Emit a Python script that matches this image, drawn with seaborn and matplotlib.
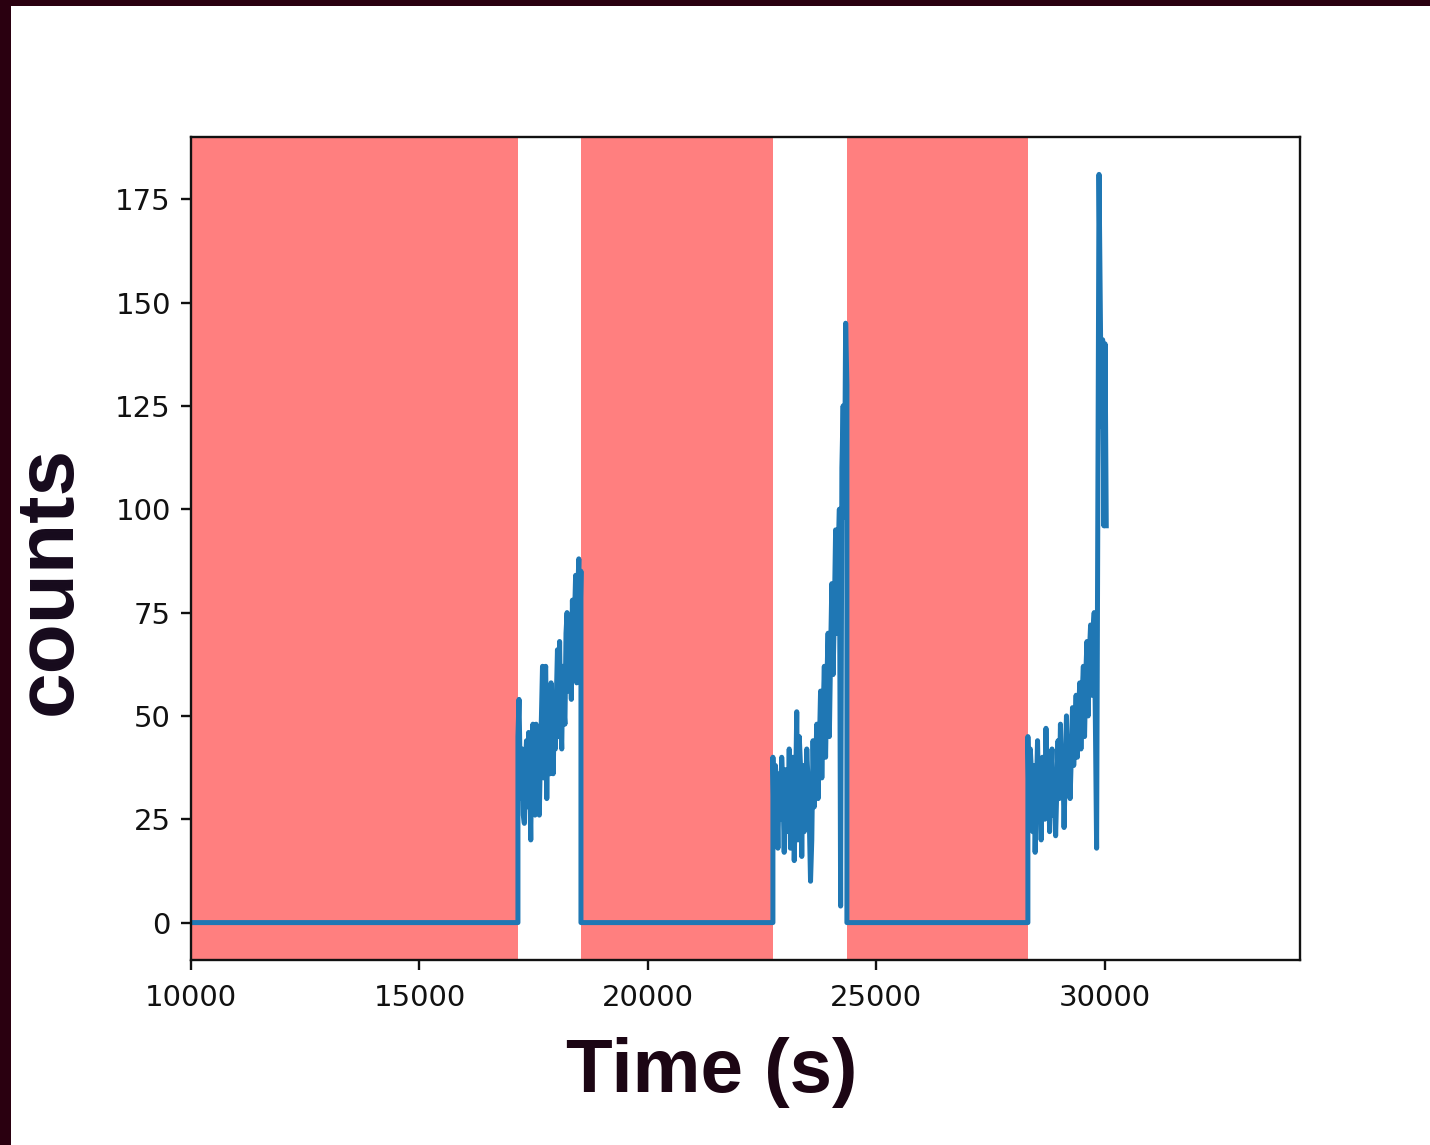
import numpy as np
import pandas as pd
import seaborn as sns
import matplotlib.pyplot as plt
from matplotlib.patches import Rectangle

# intervals shaded in red (s)
span_starts = [10000, 18534, 24354]
span_ends = [17155, 22735, 28315]

# noisy light-curve segments between the shaded intervals
seg_starts = [17155, 22735, 28315]
seg_ends = [18534, 24354, 30030]

seg1 = [45, 54, 38, 30, 42, 26, 24, 38, 44, 28,
        46, 35, 20, 44, 48, 33, 26, 48, 40, 45,
        26, 40, 50, 62, 35, 60, 62, 30, 55, 40,
        36, 58, 46, 36, 50, 42, 55, 66, 45, 68,
        50, 42, 62, 52, 48, 70, 75, 56, 72, 64,
        54, 78, 60, 74, 84, 58, 80, 88, 70, 85]
seg2 = [40, 20, 38, 32, 18, 36, 25, 40, 33, 17,
        37, 28, 22, 42, 18, 35, 40, 15, 30, 51,
        20, 45, 38, 16, 38, 22, 30, 42, 34, 25,
        10, 20, 44, 28, 38, 48, 30, 42, 56, 35,
        50, 62, 40, 58, 70, 45, 65, 82, 60, 75,
        95, 70, 88, 100, 4, 110, 125, 98, 145, 130]
seg3 = [45, 25, 42, 36, 22, 38, 17, 30, 44, 28,
        36, 20, 40, 32, 25, 47, 30, 38, 22, 35,
        42, 26, 36, 21, 33, 44, 30, 48, 34, 40,
        23, 36, 50, 35, 45, 30, 40, 52, 38, 46,
        55, 40, 50, 58, 42, 55, 62, 45, 60, 68,
        50, 65, 72, 55, 70, 75, 48, 18, 100, 181,
        150, 120, 141, 96, 140, 96]
segments = [seg1, seg2, seg3]

x_ticks = [10000, 15000, 20000, 25000, 30000]
y_ticks = [0, 25, 50, 75, 100, 125, 150, 175]

# build the full series: zeros inside shaded intervals, counts in the gaps
t_all = []
c_all = []
for i, seg in enumerate(segments):
    s0, s1 = seg_starts[i], seg_ends[i]
    t_all += [span_starts[i], s0]
    c_all += [0, 0]
    t_all += list(np.linspace(s0, s1, len(seg)))
    c_all += seg
    if s1 in span_starts:
        t_all.append(s1)
        c_all.append(0)

df = pd.DataFrame({'time': t_all, 'counts': c_all})

fig = plt.figure(figsize=(14.3, 11.45), dpi=100, facecolor='#2a0010')
fig.patches.append(Rectangle((11 / 1430, 0), 1, 1 - 6 / 1145, transform=fig.transFigure,
                             facecolor='white', edgecolor='none', zorder=-1))
ax = fig.add_axes([191 / 1430, 1 - 960 / 1145, (1300 - 191) / 1430, (960 - 137) / 1145])

for a, b in zip(span_starts, span_ends):
    ax.axvspan(a, b, color='red', alpha=0.5, lw=0, zorder=1)

sns.lineplot(data=df, x='time', y='counts', estimator=None, sort=False,
             color='#1f77b4', lw=3.6, ax=ax, zorder=2)

ax.set_xlim(10000, 34270)
ax.set_ylim(-9.05, 190.05)
ax.set_xticks(x_ticks)
ax.set_yticks(y_ticks)
ax.tick_params(labelsize=21, length=7.5, width=1.7, pad=7, colors='#111111')
ax.tick_params(axis='x', pad=10)
for sp in ax.spines.values():
    sp.set_linewidth(1.7)
    sp.set_color('#111111')

ax.set_ylabel('counts', fontsize=59, fontweight='bold', family='Liberation Sans',
              color='#160a1c', ha='center', va='center')
ax.yaxis.set_label_coords((50 - 191) / 1109, (960 - 580) / 823)
ax.set_xlabel('Time (s)', fontsize=55, fontweight='bold', family='Liberation Sans',
              color='#1c0614', ha='center', va='center')
ax.xaxis.set_label_coords((712 - 191) / 1109, (960 - 1073) / 823)

fig.savefig('out.png', dpi=100)
